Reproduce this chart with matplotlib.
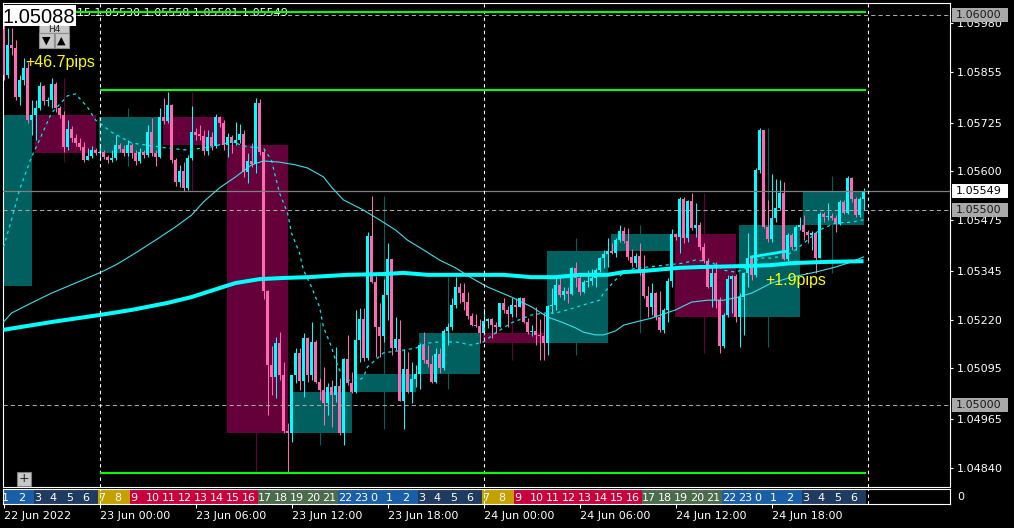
import matplotlib.pyplot as plt
import matplotlib.patches as mpatches
import matplotlib.transforms as mtransforms
import matplotlib.ticker as mticker
import numpy as np
import pandas as pd

# EURUSD M15, 22 Jun 2022 18:00 .. 24 Jun 2022 23:45 (server time)
start_time = "2022-06-22 18:00"
first_open = 1.05965
h4_first_open = 1.05307

closes = [
    1.05847, 1.05924, 1.05917, 1.05791, 1.05835, 1.05865, 1.05732, 1.05745, 1.05763, 1.05819,
    1.05781, 1.05783, 1.05824, 1.05763, 1.05745, 1.05663, 1.05709, 1.05686, 1.05673, 1.05663,
    1.05629, 1.05640, 1.05655, 1.05647, 1.05650, 1.05637, 1.05629, 1.05635, 1.05668, 1.05658,
    1.05647, 1.05668, 1.05647, 1.05627, 1.05650, 1.05642, 1.05701, 1.05647, 1.05637, 1.05740,
    1.05729, 1.05770, 1.05629, 1.05573, 1.05601, 1.05558, 1.05635, 1.05701, 1.05694, 1.05692,
    1.05653, 1.05688, 1.05665, 1.05740, 1.05724, 1.05668, 1.05688, 1.05673, 1.05681, 1.05696,
    1.05599, 1.05627, 1.05619, 1.05776, 1.05650, 1.05294, 1.05104, 1.05073, 1.05160, 1.05078,
    1.04935, 1.04929, 1.05078, 1.05135, 1.05063, 1.05173, 1.05078, 1.05163, 1.05060, 1.05040,
    1.05006, 1.05047, 1.05027, 1.05050, 1.04929, 1.05119, 1.05058, 1.05035, 1.05168, 1.05222,
    1.05122, 1.05435, 1.05317, 1.05201, 1.05178, 1.05283, 1.05376, 1.05147, 1.05170, 1.05012,
    1.05094, 1.05035, 1.05068, 1.05081, 1.05155, 1.05117, 1.05106, 1.05060, 1.05132, 1.05096,
    1.05191, 1.05201, 1.05258, 1.05304, 1.05288, 1.05265, 1.05229, 1.05206, 1.05204, 1.05186,
    1.05217, 1.05222, 1.05206, 1.05201, 1.05263, 1.05245, 1.05235, 1.05258, 1.05253, 1.05276,
    1.05214, 1.05188, 1.05191, 1.05181, 1.05178, 1.05160, 1.05255, 1.05258, 1.05309, 1.05283,
    1.05294, 1.05286, 1.05353, 1.05327, 1.05291, 1.05317, 1.05319, 1.05327, 1.05347, 1.05378,
    1.05388, 1.05396, 1.05391, 1.05424, 1.05447, 1.05422, 1.05381, 1.05365, 1.05383, 1.05340,
    1.05281, 1.05253, 1.05288, 1.05227, 1.05194, 1.05245, 1.05319, 1.05440, 1.05432, 1.05529,
    1.05429, 1.05524, 1.05455, 1.05463, 1.05406, 1.05370, 1.05304, 1.05340, 1.05270, 1.05153,
    1.05232, 1.05324, 1.05332, 1.05227, 1.05278, 1.05340, 1.05378, 1.05335, 1.05604, 1.05706,
    1.05458, 1.05427, 1.05481, 1.05506, 1.05545, 1.05376, 1.05437, 1.05406, 1.05458, 1.05463,
    1.05445, 1.05437, 1.05442, 1.05378, 1.05491, 1.05483, 1.05486, 1.05481, 1.05465, 1.05522,
    1.05494, 1.05583, 1.05529, 1.05488, 1.05530, 1.05549,
]
highs = [
    1.05976, 1.05968, 1.05968, 1.05937, 1.05847, 1.05891, 1.05881, 1.05783, 1.05783, 1.05829,
    1.05822, 1.05791, 1.05840, 1.05829, 1.05768, 1.05755, 1.05732, 1.05717, 1.05696, 1.05686,
    1.05676, 1.05660, 1.05665, 1.05660, 1.05668, 1.05655, 1.05642, 1.05655, 1.05694, 1.05673,
    1.05668, 1.05681, 1.05673, 1.05655, 1.05660, 1.05655, 1.05719, 1.05737, 1.05655, 1.05763,
    1.05788, 1.05804, 1.05773, 1.05635, 1.05617, 1.05624, 1.05642, 1.05768, 1.05712, 1.05719,
    1.05706, 1.05706, 1.05701, 1.05747, 1.05742, 1.05732, 1.05699, 1.05694, 1.05727, 1.05722,
    1.05706, 1.05647, 1.05673, 1.05788, 1.05786, 1.05655, 1.05296, 1.05153, 1.05176, 1.05188,
    1.05112, 1.04955, 1.05078, 1.05147, 1.05147, 1.05186, 1.05176, 1.05214, 1.05168, 1.05071,
    1.05099, 1.05058, 1.05065, 1.05150, 1.05071, 1.05122, 1.05181, 1.05086, 1.05245, 1.05250,
    1.05250, 1.05445, 1.05537, 1.05332, 1.05263, 1.05324, 1.05417, 1.05373, 1.05227, 1.05219,
    1.05145, 1.05137, 1.05112, 1.05104, 1.05160, 1.05188, 1.05155, 1.05129, 1.05147, 1.05147,
    1.05196, 1.05212, 1.05276, 1.05329, 1.05314, 1.05314, 1.05291, 1.05237, 1.05235, 1.05222,
    1.05250, 1.05224, 1.05224, 1.05214, 1.05263, 1.05276, 1.05255, 1.05276, 1.05276, 1.05278,
    1.05276, 1.05224, 1.05206, 1.05253, 1.05222, 1.05237, 1.05258, 1.05301, 1.05332, 1.05329,
    1.05304, 1.05304, 1.05355, 1.05368, 1.05340, 1.05322, 1.05347, 1.05350, 1.05353, 1.05381,
    1.05399, 1.05429, 1.05417, 1.05429, 1.05463, 1.05458, 1.05455, 1.05401, 1.05391, 1.05417,
    1.05386, 1.05306, 1.05314, 1.05291, 1.05294, 1.05250, 1.05327, 1.05453, 1.05442, 1.05535,
    1.05535, 1.05527, 1.05545, 1.05519, 1.05470, 1.05417, 1.05378, 1.05355, 1.05368, 1.05278,
    1.05237, 1.05335, 1.05335, 1.05337, 1.05288, 1.05342, 1.05442, 1.05386, 1.05609, 1.05712,
    1.05706, 1.05527, 1.05594, 1.05581, 1.05578, 1.05573, 1.05442, 1.05442, 1.05463, 1.05483,
    1.05488, 1.05450, 1.05447, 1.05442, 1.05496, 1.05496, 1.05519, 1.05494, 1.05488, 1.05527,
    1.05527, 1.05588, 1.05586, 1.05535, 1.05535, 1.05558,
]
lows = [
    1.05835, 1.05840, 1.05899, 1.05783, 1.05770, 1.05822, 1.05724, 1.05694, 1.05681, 1.05758,
    1.05770, 1.05768, 1.05763, 1.05753, 1.05737, 1.05650, 1.05655, 1.05676, 1.05665, 1.05655,
    1.05624, 1.05629, 1.05635, 1.05642, 1.05635, 1.05632, 1.05622, 1.05624, 1.05629, 1.05650,
    1.05640, 1.05640, 1.05635, 1.05617, 1.05622, 1.05635, 1.05637, 1.05640, 1.05614, 1.05635,
    1.05722, 1.05724, 1.05622, 1.05563, 1.05560, 1.05550, 1.05553, 1.05629, 1.05681, 1.05681,
    1.05642, 1.05642, 1.05655, 1.05660, 1.05714, 1.05655, 1.05637, 1.05647, 1.05668, 1.05673,
    1.05586, 1.05570, 1.05612, 1.05596, 1.05642, 1.05273, 1.04976, 1.05027, 1.05019, 1.05065,
    1.04929, 1.04827, 1.04906, 1.05058, 1.05040, 1.05022, 1.05060, 1.05065, 1.05058, 1.05014,
    1.04950, 1.04976, 1.04945, 1.05009, 1.04924, 1.04899, 1.05053, 1.05032, 1.05032, 1.05112,
    1.05114, 1.05117, 1.05314, 1.05124, 1.05124, 1.05163, 1.05219, 1.05129, 1.05142, 1.05012,
    1.04940, 1.05032, 1.05006, 1.05047, 1.05042, 1.05109, 1.05099, 1.05058, 1.05058, 1.05083,
    1.05091, 1.05155, 1.05194, 1.05250, 1.05263, 1.05245, 1.05222, 1.05204, 1.05201, 1.05160,
    1.05181, 1.05199, 1.05173, 1.05186, 1.05201, 1.05237, 1.05201, 1.05227, 1.05227, 1.05253,
    1.05212, 1.05183, 1.05178, 1.05155, 1.05117, 1.05117, 1.05129, 1.05237, 1.05245, 1.05278,
    1.05270, 1.05263, 1.05283, 1.05304, 1.05283, 1.05288, 1.05304, 1.05309, 1.05304, 1.05342,
    1.05353, 1.05355, 1.05388, 1.05381, 1.05419, 1.05417, 1.05373, 1.05355, 1.05355, 1.05335,
    1.05276, 1.05227, 1.05232, 1.05219, 1.05188, 1.05186, 1.05214, 1.05304, 1.05424, 1.05391,
    1.05417, 1.05419, 1.05450, 1.05432, 1.05399, 1.05365, 1.05301, 1.05253, 1.05250, 1.05135,
    1.05147, 1.05227, 1.05237, 1.05214, 1.05150, 1.05181, 1.05304, 1.05322, 1.05329, 1.05596,
    1.05455, 1.05419, 1.05419, 1.05470, 1.05501, 1.05373, 1.05370, 1.05399, 1.05399, 1.05450,
    1.05424, 1.05417, 1.05399, 1.05340, 1.05381, 1.05470, 1.05476, 1.05476, 1.05445, 1.05463,
    1.05491, 1.05491, 1.05522, 1.05483, 1.05483, 1.05501,
]

# moving averages, read at bar indices
ma_slow_bars = [0, 12, 24, 32, 41, 47, 54, 58, 64, 70, 76, 86, 95, 100, 106, 117, 125, 132,
                138, 144, 151, 155, 160, 169, 174, 187, 192, 197, 205, 215]
ma_slow = [1.05194, 1.05214, 1.05232, 1.05245, 1.05263, 1.05278, 1.05301, 1.05314, 1.05324,
           1.05327, 1.05329, 1.05335, 1.05337, 1.05340, 1.05335, 1.05335, 1.05335, 1.05329,
           1.05329, 1.05335, 1.05335, 1.05342, 1.05345, 1.05353, 1.05355, 1.05358, 1.05360,
           1.05365, 1.05368, 1.05370]
ma_mid_bars = [0, 2, 7, 12, 18, 24, 28, 33, 38, 43, 47, 50, 54, 58, 62, 65, 69, 73, 76, 80,
               82, 85, 90, 94, 98, 101, 105, 109, 113, 117, 121, 127, 132, 136, 140, 143, 145,
               148, 150, 153, 155, 158, 162, 168, 172, 176, 180, 183, 187, 192, 197, 203, 208,
               212, 215]
ma_mid = [1.05214, 1.05237, 1.05263, 1.05288, 1.05314, 1.05340, 1.05360, 1.05391, 1.05424,
          1.05458, 1.05488, 1.05522, 1.05558, 1.05586, 1.05617, 1.05627, 1.05624, 1.05617,
          1.05609, 1.05586, 1.05560, 1.05527, 1.05501, 1.05476, 1.05450, 1.05424, 1.05399,
          1.05373, 1.05353, 1.05327, 1.05304, 1.05278, 1.05253, 1.05227, 1.05212, 1.05199,
          1.05188, 1.05181, 1.05181, 1.05191, 1.05206, 1.05214, 1.05224, 1.05245, 1.05265,
          1.05270, 1.05270, 1.05276, 1.05288, 1.05314, 1.05329, 1.05342, 1.05355, 1.05368,
          1.05381]
ma_fast_bars = [0, 2, 4, 7, 9, 12, 16, 18, 21, 23, 27, 32, 41, 46, 52, 57, 61, 65, 67, 68,
                69, 71, 72, 74, 75, 77, 79, 80, 82, 83, 84, 86, 89, 90, 91, 93, 95, 100, 103,
                106, 109, 113, 117, 120, 123, 127, 132, 135, 138, 141, 145, 149, 150, 153, 155,
                158, 161, 170, 173, 177, 180, 183, 186, 189, 192, 196, 198, 201, 204, 208, 212,
                215]
ma_fast = [1.05406, 1.05476, 1.05553, 1.05637, 1.05681, 1.05750, 1.05794, 1.05799, 1.05765,
           1.05732, 1.05701, 1.05673, 1.05660, 1.05655, 1.05663, 1.05676, 1.05663, 1.05660,
           1.05629, 1.05586, 1.05545, 1.05494, 1.05442, 1.05391, 1.05347, 1.05304, 1.05253,
           1.05201, 1.05150, 1.05117, 1.05091, 1.05065, 1.05065, 1.05073, 1.05099, 1.05117,
           1.05135, 1.05142, 1.05147, 1.05160, 1.05163, 1.05163, 1.05155, 1.05163, 1.05186,
           1.05212, 1.05232, 1.05237, 1.05237, 1.05245, 1.05258, 1.05270, 1.05288, 1.05322,
           1.05340, 1.05353, 1.05355, 1.05365, 1.05373, 1.05368, 1.05347, 1.05342, 1.05353,
           1.05378, 1.05378, 1.05386, 1.05399, 1.05424, 1.05450, 1.05468, 1.05470, 1.05476]
seg_bars = [187, 196]
seg_vals = [1.05381, 1.05396]

green_levels = [1.06009, 1.05809, 1.04827]
round_levels = [1.06000, 1.05500, 1.05000]
bid = 1.05549
price_ticks = [1.05980, 1.05855, 1.05725, 1.05600, 1.05475, 1.05345, 1.05220, 1.05095,
               1.04965, 1.04840]

date_tick_times = ["2022-06-22 18:00", "2022-06-23 00:00", "2022-06-23 06:00",
                   "2022-06-23 12:00", "2022-06-23 18:00", "2022-06-24 00:00",
                   "2022-06-24 06:00", "2022-06-24 12:00", "2022-06-24 18:00"]
date_tick_labels = ["22 Jun 2022", "23 Jun 00:00", "23 Jun 06:00", "23 Jun 12:00",
                    "23 Jun 18:00", "24 Jun 00:00", "24 Jun 06:00", "24 Jun 12:00",
                    "24 Jun 18:00"]

W, H = 1014, 528
BULL, BEAR = "#00ffff", "#ff69b4"
BOX_UP, BOX_DN = "#005f5f", "#66003a"
SESSION_COLORS = {"asia": "#1a5ea6", "night": "#1f3b5f", "open": "#c4a000",
                  "europe": "#c8003c", "us": "#4b6b4b"}


def session_of(local_hour):
    if local_hour in (22, 23, 0, 1, 2):
        return "asia"
    if 3 <= local_hour <= 6:
        return "night"
    if 7 <= local_hour <= 8:
        return "open"
    if 9 <= local_hour <= 16:
        return "europe"
    return "us"


def px_axes(fig, x0, y0, x1, y1):
    return fig.add_axes([x0 / W, 1 - y1 / H, (x1 - x0) / W, (y1 - y0) / H])


plt.rcParams["font.family"] = ["DejaVu Sans"]
fig = plt.figure(figsize=(W / 100, H / 100), dpi=100, facecolor="black")

closes = np.array(closes)
opens = np.r_[first_open, closes[:-1]]
hi = np.maximum.reduce([np.array(highs), opens, closes])
lo = np.minimum.reduce([np.array(lows), opens, closes])
bars = np.arange(len(closes))
times = pd.date_range(start_time, periods=len(closes), freq="15min")
step = pd.Timedelta("15min")


def bar_of(t):
    return (pd.Timestamp(t) - times[0]) / step


# main chart
ax = px_axes(fig, 2.5, 2.5, 950, 487)
ax.set_facecolor("black")
ax.set_xlim(-0.25, -0.25 + 947.5 / 4)
ax.set_ylim(1.04791, 1.060333)
for s in ax.spines.values():
    s.set_color("white")
    s.set_linewidth(0.8)
ax.set_xticks([])
ax.yaxis.tick_right()
ax.set_yticks(price_ticks)
ax.yaxis.set_major_formatter(mticker.FormatStrFormatter("%.5f"))
ax.tick_params(axis="y", colors="white", labelsize=8, length=2.5, width=0.8, pad=2.5)

# H4 candles as boxes behind
df = pd.DataFrame({"open": opens, "high": hi, "low": lo, "close": closes}, index=times)
h4 = df.resample("4h").agg({"open": "first", "high": "max", "low": "min", "close": "last"})
h4.iloc[0, h4.columns.get_loc("open")] = h4_first_open
h4.iloc[0, h4.columns.get_loc("low")] = min(h4.iloc[0]["low"], h4_first_open)
for t, row in h4.iterrows():
    s = bar_of(t)
    col = BOX_UP if row["close"] >= row["open"] else BOX_DN
    ax.add_patch(mpatches.Rectangle((s - 0.125, min(row["open"], row["close"])), 15.125,
                                    abs(row["close"] - row["open"]), fc=col, ec="none", zorder=1))
    ax.vlines(s + 7, row["low"], row["high"], colors=col, lw=0.8, zorder=1)

# M15 candles
colors = np.where(closes >= opens, BULL, BEAR)
ax.vlines(bars, lo, hi, colors=colors, lw=0.75, zorder=3)
body = np.maximum(np.abs(closes - opens), 0.00003)
ax.bar(bars, body, width=0.75, bottom=np.minimum(opens, closes), color=colors, lw=0, zorder=3)

# moving averages
ax.plot(ma_slow_bars, ma_slow, color="#00ffff", lw=2.9, zorder=5, solid_capstyle="butt")
ax.plot(ma_mid_bars, ma_mid, color="#3ee0e8", lw=0.8, zorder=5)
ax.plot(ma_fast_bars, ma_fast, color="#00e8e8", lw=0.9, ls=(0, (2.5, 3)), zorder=5)
ax.plot(seg_bars, seg_vals, color="#00ffff", lw=2.0, zorder=5)

# levels
for lv in round_levels:
    ax.axhline(lv, color="#a8a8a8", lw=0.75, ls=(0, (4, 3)), zorder=4)
ax.axhline(bid, color="#808080", lw=0.9, zorder=4)
end_bar = bar_of("2022-06-25 00:00") - 0.5
for lv, b0 in zip(green_levels, [-1, bar_of("2022-06-23 00:00"), bar_of("2022-06-23 00:00")]):
    ax.hlines(lv, b0, end_bar, colors="#00ff00", lw=1.5, zorder=7)

separators = [bar_of(d) for d in ["2022-06-23", "2022-06-24", "2022-06-25"]]
for b in separators:
    ax.axvline(b, color="white", lw=0.8, ls=(0, (3, 3)), zorder=6)

ax.text(bar_of("2022-06-22 19:21"), 1.05869, "+46.7pips", color="#ffff00", fontsize=11.5,
        family="Liberation Sans", va="baseline", zorder=8)
ax.text(bar_of("2022-06-24 17:36"), 1.05309, "+1.9pips", color="#ffff00", fontsize=11.5,
        family="Liberation Sans", va="baseline", zorder=8)

# hour strip
st = px_axes(fig, 2.5, 489, 950, 504)
st.set_facecolor("black")
st.set_xlim(ax.get_xlim())
st.set_ylim(0, 1)
for s in st.spines.values():
    s.set_color("white")
    s.set_linewidth(0.8)
local_hours = (times.hour + 7) % 24
sess = [session_of(h) for h in local_hours]
i0 = 0
for i in range(1, len(sess) + 1):
    if i == len(sess) or sess[i] != sess[i0]:
        st.axvspan(i0 - 0.5, i - 0.5, color=SESSION_COLORS[sess[i0]], lw=0)
        i0 = i
for i in bars[times.minute == 0]:
    st.text(i - 0.4, 0.38, str(local_hours[i]), color="white", fontsize=8,
            ha="left", va="center")
for b in separators:
    st.axvline(b, color="white", lw=0.8, ls=(0, (3, 3)))
st.set_yticks([])
st.set_xticks([bar_of(t) for t in date_tick_times])
st.set_xticklabels(date_tick_labels, ha="left")
st.tick_params(axis="x", colors="white", labelsize=8, length=3, width=0.8, pad=2)

# overlay in pixel coordinates
ov = fig.add_axes([0, 0, 1, 1])
ov.set_xlim(0, W)
ov.set_ylim(H, 0)
ov.axis("off")
trans = mtransforms.blended_transform_factory(ov.transData, ax.transData)
half = 7 / 39000
for lv in round_levels:
    ov.add_patch(mpatches.Rectangle((952, lv - half), 56, 2 * half, fc="#a9a9a9", ec="none",
                                    transform=trans))
    ov.text(956, lv, "%.5f" % lv, color="#1a1a1a", fontsize=8, va="center", transform=trans)
ov.add_patch(mpatches.Rectangle((952, bid - half), 56, 2 * half, fc="white", ec="none",
                                transform=trans))
ov.text(956, bid, "%.5f" % bid, color="black", fontsize=8, va="center", transform=trans)

ax.text(77, 16.5, "15 1.05530 1.05558 1.05501 1.05549", color="white", fontsize=8,
        ha="left", va="baseline", transform=ov.transData, zorder=6)

ov.add_patch(mpatches.Rectangle((39, 18), 30, 15, fc="#c8c8c8", ec="#7a7a7a", lw=0.8))
ov.text(54, 29.5, "H4", color="#202020", fontsize=6.5, ha="center", va="center")
ov.add_patch(mpatches.Rectangle((39, 33), 14.5, 14.5, fc="#c8c8c8", ec="#909090", lw=0.8))
ov.add_patch(mpatches.Rectangle((54.5, 33), 14.5, 14.5, fc="#c8c8c8", ec="#909090", lw=0.8))
ov.text(46.2, 40.5, "\u25bc", color="black", fontsize=8, ha="center", va="center")
ov.text(61.7, 40.5, "\u25b2", color="black", fontsize=8, ha="center", va="center")
ov.add_patch(mpatches.Rectangle((2.5, 4.5), 73.5, 21, fc="white", ec="none"))
ov.text(3, 23, "1.05088", color="black", fontsize=14.5, family="Liberation Sans",
        va="baseline")

ov.add_patch(mpatches.Rectangle((17, 472), 14, 14, fc="#c8c8c8", ec="#808080", lw=0.8))
ov.text(24, 479, "+", color="#202020", fontsize=9, ha="center", va="center")
ov.text(957, 497, "0", color="white", fontsize=8, va="center")

plt.savefig("out.png", dpi=100, facecolor="black")
plt.close()
